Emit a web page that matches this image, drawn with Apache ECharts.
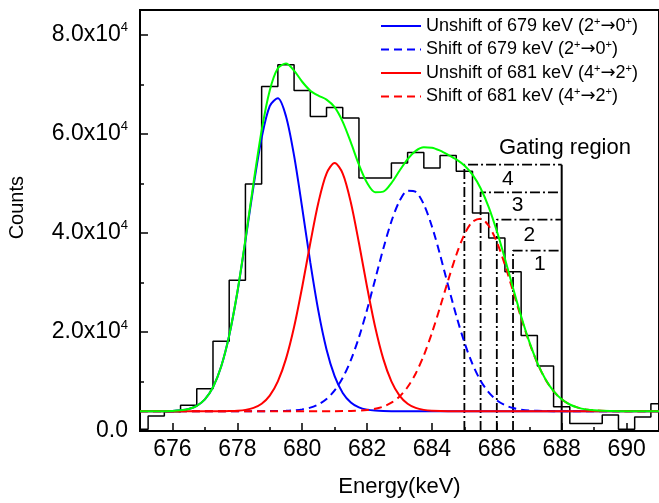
<!DOCTYPE html>
<html><head><meta charset="utf-8">
<script src="https://cdn.jsdelivr.net/npm/echarts@6/dist/echarts.min.js"></script>
<style>html,body{margin:0;padding:0;background:#fff}#c{width:659px;height:503px}</style>
</head><body><div id="c"></div>
<script>
// ---------- tick values ----------
const xTickMajor = [676, 678, 680, 682, 684, 686, 688, 690];
const xTickMinor = [675, 677, 679, 681, 683, 685, 687, 689, 691];
const yTickMajor = [0, 20000, 40000, 60000, 80000];
const yTickMinor = [10000, 30000, 50000, 70000];

// ---------- histogram (bin centre keV, counts) ----------
const histE = [675, 675.5, 676, 676.5, 677, 677.5, 678, 678.5, 679, 679.5, 680, 680.5, 681, 681.5, 682, 682.5, 683, 683.5, 684, 684.5, 685, 685.5, 686, 686.5, 687, 687.5, 688, 688.5, 689, 689.5, 690, 690.5, 691];
const histC = [340, 3020, 3910, 5180, 8550, 18140, 30440, 49880, 69550, 73930, 68750, 63500, 65320, 63180, 51090, 51090, 54110, 56250, 53100, 55620, 52420, 44030, 38990, 32140, 19290, 13140, 4920, 1490, 1490, 3230, 340, 2820, 5520];

// ---------- fitted components [keV, counts] ----------
const unshift679 = [[675,4000],[675.5,4006],[676,4063],[676.25,4176],[676.5,4458],[676.75,5094],[677,6400],[677.25,8840],[677.5,12970],[677.75,19280],[678,27910],[678.25,38390],[678.5,49450],[678.75,59200],[679,65610],[679.25,67190],[679.5,63560],[679.75,55590],[680,45070],[680.25,34040],[680.5,24190],[680.75,16470],[681,11080],[681.25,7690],[681.5,5770],[681.75,4780],[682,4316],[682.25,4118],[682.5,4040],[683,4000],[691,4000]];
const shift679 = [[675,4000],[679,4013],[679.5,4078],[679.75,4173],[680,4364],[680.25,4727],[680.5,5375],[680.75,6463],[681,8193],[681.25,10750],[681.5,14310],[681.75,18920],[682,24470],[682.25,30610],[682.5,36790],[682.75,42310],[683,46420],[683.25,48510],[683.5,48270],[683.75,45740],[684,41300],[684.25,35590],[684.5,29350],[684.75,23300],[685,17920],[685.25,13510],[685.5,10160],[685.75,7790],[686,6200],[686.25,5215],[686.5,4636],[686.75,4315],[687,4148],[687.5,4028],[688,4000],[691,4000]];
const unshift681 = [[675,4000],[677.5,4000],[677.75,4034],[678,4099],[678.25,4267],[678.5,4663],[678.75,5509],[679,7146],[679.25,10017],[679.5,14560],[679.75,20990],[680,29080],[680.25,37950],[680.5,46140],[680.75,51980],[681,54100],[681.25,51980],[681.5,46140],[681.75,37950],[682,29080],[682.25,20990],[682.5,14560],[682.75,10017],[683,7146],[683.25,5509],[683.5,4663],[683.75,4267],[684,4099],[684.5,4000],[691,4000]];
const shift681 = [[675,4000],[681,4008],[681.5,4049],[682,4237],[682.25,4483],[682.5,4933],[682.75,5712],[683,6968],[683.25,8886],[683.5,11624],[683.75,15270],[684,19800],[684.25,24990],[684.5,30420],[684.75,35530],[685,39670],[685.25,42240],[685.5,42860],[685.75,41430],[686,38170],[686.25,33570],[686.5,28250],[686.75,22850],[687,17890],[687.25,13700],[687.5,10420],[687.75,8030],[688,6396],[688.25,5350],[688.5,4722],[688.75,4365],[689,4175],[689.5,4034],[690,4004],[691,4000]];
const totalFit = [[675,4000],[675.5,4006],[676,4063],[676.25,4176],[676.5,4458],[676.75,5094],[677,6400],[677.25,8840],[677.5,12970],[677.75,19314],[678,28009],[678.25,38657],[678.5,50113],[678.75,60709],[679,68769],[679.25,73237],[679.5,74198],[679.75,72753],[680,70514],[680.25,68717],[680.5,67705],[680.75,66913],[681,65373],[681.25,62420],[681.5,58269],[681.75,53760],[682,50103],[682.25,48213],[682.5,48323],[682.75,50054],[683,52534],[683.25,54905],[683.5,56557],[683.75,57277],[684,57199],[684.25,56614],[684.5,55770],[684.75,54830],[685,53590],[685.25,51750],[685.5,49020],[685.75,45220],[686,40370],[686.25,34785],[686.5,28886],[686.75,23165],[687,18038],[687.25,13765],[687.5,10448],[687.75,8040],[688,6396],[688.25,5350],[688.5,4722],[688.75,4365],[689,4175],[689.5,4034],[690,4004],[691,4000]];

// ---------- gating region ----------
const gateNames = ['1', '2', '3', '4'];
const gateStart = [686.5, 686.0, 685.5, 685.0];
const gateTop = [36430, 42680, 48180, 53770];
const gateEnd = 688;
const gateLabelX = [687.33, 687.0, 686.64, 686.34];
const gateLabelY = [33630, 39470, 45520, 50750];
const gateTitle = 'Gating region';
const gateTitlePos = [688.1, 57200];

// ---------- legend names ----------
const names = ['Unshift of 679 keV (2+→0+)', 'Shift of 679 keV (2+→0+)', 'Unshift of 681 keV (4+→2+)', 'Shift of 681 keV (4+→2+)'];

const FONT = '"Liberation Sans", Arial, Helvetica, sans-serif';
const chart = echarts.init(document.getElementById('c'), null, {renderer: 'canvas'});

const series = [];
series.push({
  type: 'line', name: 'hist', step: 'middle', symbol: 'none', silent: true,
  data: histE.map((e, i) => [e, histC[i]]),
  lineStyle: {color: '#000', width: 1.5}, z: 2
});
gateStart.forEach((g, i) => {
  series.push({
    type: 'line', name: 'gate' + i, symbol: 'none', silent: true,
    data: [[g, 0], [g, gateTop[i]], [gateEnd, gateTop[i]]],
    lineStyle: {color: '#000', width: 1.8, type: [10, 3, 2, 3]}, z: 3
  });
});
series.push({
  type: 'line', name: 'gateEnd', symbol: 'none', silent: true,
  data: [[gateEnd, 0], [gateEnd, Math.max.apply(null, gateTop)]],
  lineStyle: {color: '#000', width: 2}, z: 3
});
const comps = [
  {d: unshift679, c: '#0000ff', t: 'solid'},
  {d: shift679, c: '#0000ff', t: [8, 5]},
  {d: unshift681, c: '#ff0000', t: 'solid'},
  {d: shift681, c: '#ff0000', t: [8, 5]}
];
comps.forEach((o, i) => {
  series.push({
    type: 'line', name: names[i], symbol: 'none', smooth: 0.3, silent: true,
    data: o.d, itemStyle: {color: o.c},
    lineStyle: {color: o.c, width: 2, type: o.t}, z: 4 + i
  });
});
series.push({
  type: 'line', name: 'total', symbol: 'none', smooth: 0.3, silent: true,
  data: totalFit, lineStyle: {color: '#00ff00', width: 2}, z: 9
});
const labelCommon = {show: true, position: 'inside', formatter: p => p.name, color: '#000', opacity: 1, fontFamily: FONT, textBorderWidth: 0, fontWeight: 'normal'};
series.push({
  type: 'scatter', name: 'gateLabels', symbolSize: 0, silent: true, z: 10,
  itemStyle: {opacity: 1},
  data: gateNames.map((n, i) => ({name: n, value: [gateLabelX[i], gateLabelY[i]]})),
  label: Object.assign({}, labelCommon, {fontSize: 21})
});
series.push({
  type: 'scatter', name: 'gateTitle', symbolSize: 0, silent: true, z: 10,
  itemStyle: {opacity: 1},
  data: [{name: gateTitle, value: gateTitlePos}],
  label: Object.assign({}, labelCommon, {fontSize: 22})
});

const axisBase = {type: 'value', splitLine: {show: false}};
const ARROWFONT = '"DejaVu Sans", sans-serif';

chart.setOption({
  animation: false,
  backgroundColor: '#fff',
  textStyle: {fontFamily: FONT},
  grid: {left: 140, right: 0, top: 10, bottom: 71, show: true, borderColor: '#000', borderWidth: 2, backgroundColor: 'transparent'},
  legend: {
    data: names, orient: 'vertical', left: 380, top: 16, padding: 0,
    itemWidth: 40, itemHeight: 14, itemGap: 4.5,
    selectedMode: false,
    itemStyle: {opacity: 0},
    formatter: function (n) {
      return '{t|' + n.split('+').join('}{s|+}{t|').split('→').join('}{a|→}{t|') + '}';
    },
    textStyle: {
      color: '#000', fontFamily: FONT, fontSize: 18,
      rich: {
        t: {fontSize: 18, lineHeight: 20, fontFamily: FONT, color: '#000'},
        a: {fontSize: 18, lineHeight: 20, fontFamily: ARROWFONT, color: '#000'},
        s: {fontSize: 11, lineHeight: 10, verticalAlign: 'top', fontFamily: FONT, color: '#000'}
      }
    }
  },
  graphic: [{
    type: 'text', left: 7, top: 176, rotation: Math.PI / 2,
    style: {text: 'Counts', font: '20px ' + FONT, fill: '#000'}
  }],
  xAxis: [
    Object.assign({}, axisBase, {
      min: 675, max: 691, position: 'bottom',
      name: 'Energy(keV)', nameLocation: 'middle', nameGap: 45,
      nameTextStyle: {fontSize: 22, color: '#000', fontFamily: FONT},
      axisLine: {show: true, onZero: false, lineStyle: {color: '#000', width: 2}},
      axisTick: {show: true, inside: true, length: 8, customValues: xTickMajor, lineStyle: {color: '#000', width: 1.5}},
      axisLabel: {show: true, customValues: xTickMajor, margin: 7, fontSize: 23, color: '#000', fontFamily: FONT}
    }),
    Object.assign({}, axisBase, {
      min: 675, max: 691, position: 'bottom',
      axisLine: {show: false},
      axisTick: {show: true, inside: true, length: 4, customValues: xTickMinor, lineStyle: {color: '#000', width: 1.5}},
      axisLabel: {show: false}
    })
  ],
  yAxis: [
    Object.assign({}, axisBase, {
      min: 0, max: 85000, position: 'left',
      axisLine: {show: true, onZero: false, lineStyle: {color: '#000', width: 2}},
      axisTick: {show: true, inside: true, length: 8, customValues: yTickMajor, lineStyle: {color: '#000', width: 1.5}},
      axisLabel: {
        show: true, customValues: yTickMajor, margin: 12, color: '#000', fontFamily: FONT,
        formatter: v => v === 0 ? '{b|0.0}' : '{b|' + (v / 10000).toFixed(1) + 'x10}{s|4}',
        rich: {
          b: {fontSize: 23, lineHeight: 27, fontFamily: FONT, color: '#000'},
          s: {fontSize: 13, lineHeight: 13, verticalAlign: 'top', fontFamily: FONT, color: '#000'}
        }
      }
    }),
    Object.assign({}, axisBase, {
      min: 0, max: 85000, position: 'left',
      axisLine: {show: false},
      axisTick: {show: true, inside: true, length: 4, customValues: yTickMinor, lineStyle: {color: '#000', width: 1.5}},
      axisLabel: {show: false}
    })
  ],
  series: series
});
</script>
</body></html>
